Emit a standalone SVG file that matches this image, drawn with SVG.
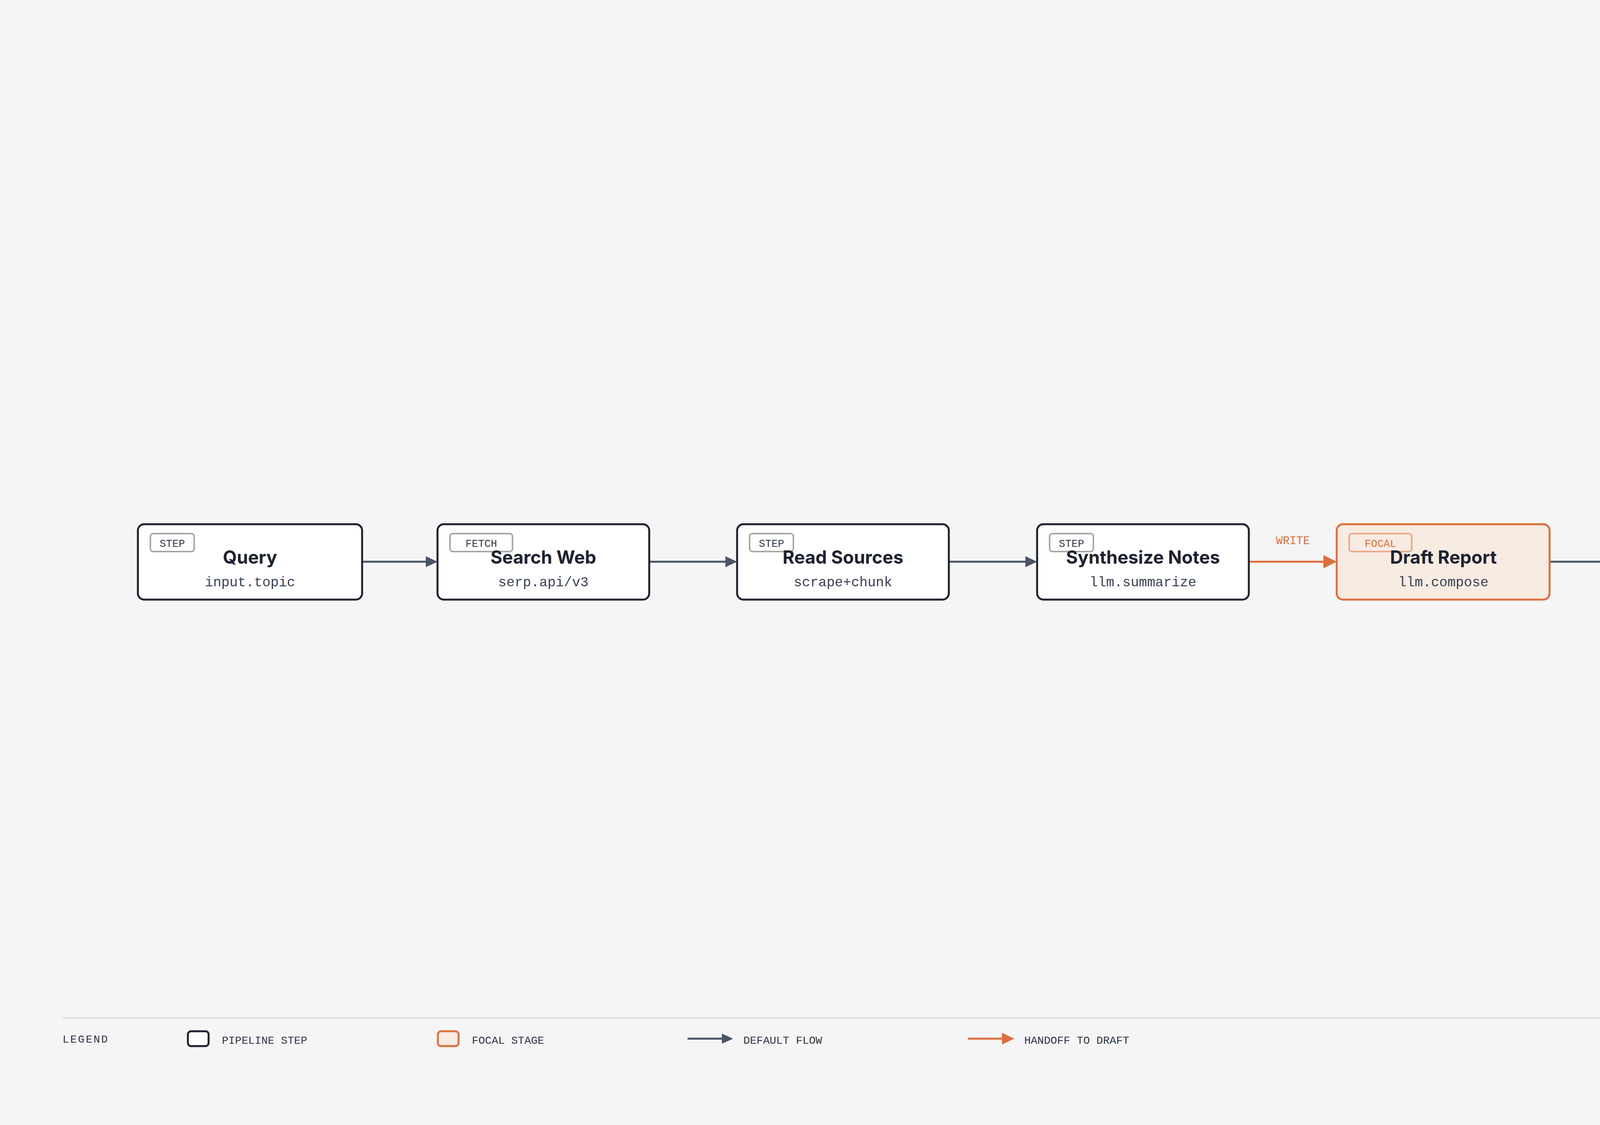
<svg xmlns="http://www.w3.org/2000/svg" width="5120" height="2880" viewBox="0 0 5120 2880">
<style>
.node{fill:#ffffff;stroke:#1e2230;stroke-width:5}
.focal{fill:#f8ebe1;stroke:#de6e3e;stroke-width:5}
.tag{fill:#ffffff;stroke:#a8a8a8;stroke-width:4}
.ftag{fill:#f8ebe1;stroke:#e9a98a;stroke-width:4}
.title{font-family:Inter,"Liberation Sans",sans-serif;font-weight:700;font-size:46px;fill:#1e2230;text-anchor:middle}
.sub{font-family:"Liberation Mono","DejaVu Sans Mono",monospace;font-size:35px;fill:#3a4256;text-anchor:middle}
.tagt{font-family:"Liberation Mono","DejaVu Sans Mono",monospace;font-size:27px;fill:#333a48;text-anchor:middle}
.edge{stroke:#4a5468;stroke-width:5;fill:none}
.hand{stroke:#de6e3e;stroke-width:5;fill:none}
.leg{font-family:"Liberation Mono","DejaVu Sans Mono",monospace;font-size:28px;fill:#2e3546}
</style>
<defs>
<marker id="ad" markerWidth="10" markerHeight="10" refX="9" refY="5" orient="auto" markerUnits="userSpaceOnUse" viewBox="0 0 10 10"><path d="M0,0 L10,5 L0,10 z" fill="#4a5468"/></marker>
<marker id="ah" markerWidth="10" markerHeight="10" refX="9" refY="5" orient="auto" viewBox="0 0 10 10" markerUnits="userSpaceOnUse"><path d="M0,0 L10,5 L0,10 z" fill="#de6e3e"/></marker>
</defs>
<rect width="5120" height="2880" fill="#f5f5f5"/>
<g id="connectors">
<path class="edge" d="M927,1438 H1090" marker-end="url(#ad)" style="marker-end:none"/>
<path d="M1090,1424 L1120,1438 L1090,1452 z" fill="#4a5468"/>
<path class="edge" d="M1662,1438 H1857"/>
<path d="M1857,1424 L1887,1438 L1857,1452 z" fill="#4a5468"/>
<path class="edge" d="M2429,1438 H2625"/>
<path d="M2625,1424 L2655,1438 L2625,1452 z" fill="#4a5468"/>
<path class="hand" d="M3197,1438 H3390"/>
<path d="M3388,1421 L3422,1438 L3388,1455 z" fill="#de6e3e"/>
<text x="3310" y="1393" font-family="'Liberation Mono',monospace" font-size="29" fill="#de6e3e" text-anchor="middle">WRITE</text>
<path class="edge" d="M3967,1438 H4159"/>
<path d="M4159,1424 L4189,1438 L4159,1452 z" fill="#4a5468"/>
</g>
<g id="n-query"><rect class="node" x="353" y="1342" width="574" height="193" rx="16"/>
<rect class="tag" x="385" y="1366" width="112" height="46" rx="7"/><text class="tagt" x="441" y="1400">STEP</text>
<text class="title" x="640" y="1443">Query</text><text class="sub" x="640" y="1501">input.topic</text></g>
<g id="n-search"><rect class="node" x="1120" y="1342" width="542" height="193" rx="16"/>
<rect class="tag" x="1152" y="1366" width="160" height="46" rx="7"/><text class="tagt" x="1232" y="1400">FETCH</text>
<text class="title" x="1391" y="1443">Search Web</text><text class="sub" x="1391" y="1501">serp.api/v3</text></g>
<g id="n-read"><rect class="node" x="1887" y="1342" width="542" height="193" rx="16"/>
<rect class="tag" x="1919" y="1366" width="112" height="46" rx="7"/><text class="tagt" x="1975" y="1400">STEP</text>
<text class="title" x="2158" y="1443">Read Sources</text><text class="sub" x="2158" y="1501">scrape+chunk</text></g>
<g id="n-synth"><rect class="node" x="2655" y="1342" width="542" height="193" rx="16"/>
<rect class="tag" x="2687" y="1366" width="112" height="46" rx="7"/><text class="tagt" x="2743" y="1400">STEP</text>
<text class="title" x="2926" y="1443">Synthesize Notes</text><text class="sub" x="2926" y="1501">llm.summarize</text></g>
<g id="n-draft"><rect class="focal" x="3422" y="1342" width="545" height="193" rx="16"/>
<rect class="ftag" x="3454" y="1366" width="160" height="46" rx="7"/><text class="tagt" x="3534" y="1400" style="fill:#de6e3e">FOCAL</text>
<text class="title" x="3695" y="1443">Draft Report</text><text class="sub" x="3695" y="1501">llm.compose</text></g>
<g id="n-verify"><rect class="node" x="4189" y="1342" width="578" height="193" rx="16"/>
<rect class="tag" x="4222" y="1366" width="176" height="46" rx="7"/><text class="tagt" x="4310" y="1400">END</text>
<text class="title" x="4478" y="1443">Verify Citations</text><text class="sub" x="4478" y="1501">crossref.check</text></g>
<g id="legend">
<line x1="160" y1="2606" x2="4960" y2="2606" stroke="#dedede" stroke-width="4"/>
<text class="leg" x="160" y="2669" letter-spacing="3">LEGEND</text>
<rect x="481" y="2640" width="53" height="38" rx="8" fill="#fff" stroke="#1e2230" stroke-width="5"/>
<text class="leg" x="568" y="2672">PIPELINE STEP</text>
<rect x="1121" y="2640" width="53" height="38" rx="8" fill="#f8ebe1" stroke="#de6e3e" stroke-width="5"/>
<text class="leg" x="1208" y="2672">FOCAL STAGE</text>
<path class="edge" d="M1760,2659 H1850"/><path d="M1848,2646 L1877,2659 L1848,2672 z" fill="#4a5468"/>
<text class="leg" x="1903" y="2672">DEFAULT FLOW</text>
<path class="hand" d="M2478,2659 H2568"/><path d="M2565,2644 L2597,2659 L2565,2674 z" fill="#de6e3e"/>
<text class="leg" x="2622" y="2672">HANDOFF TO DRAFT</text>
</g>
<text x="5058" y="2808" text-anchor="end" font-family="'Noto Sans','Noto Sans CJK SC',sans-serif" font-size="24" fill="#9a9a9a">掘金技术社区 @ Shockang</text>
</svg>
